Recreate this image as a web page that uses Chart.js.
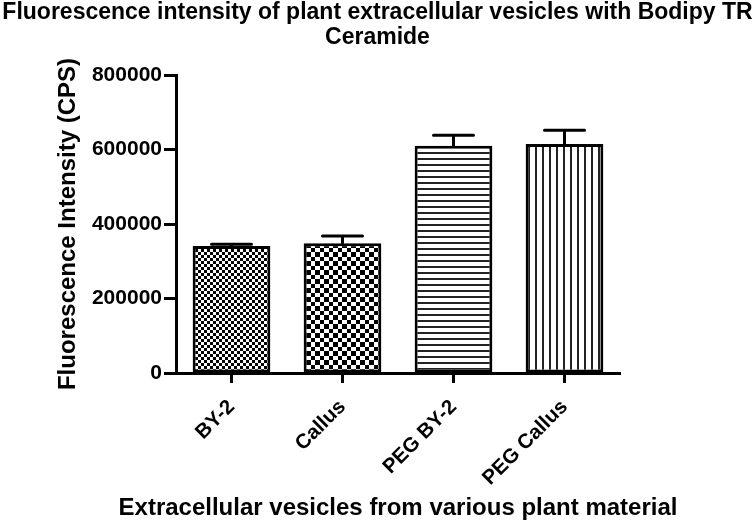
<!DOCTYPE html>
<html>
<head>
<meta charset="utf-8">
<script src="https://cdn.jsdelivr.net/npm/chart.js@4.4.1/dist/chart.umd.min.js"></script>
<style>
  body { margin: 0; background: #fff; overflow: hidden; }
</style>
</head>
<body>
<canvas id="chart" width="755" height="521"></canvas>
<script>
// data
var categories = ['BY-2', 'Callus', 'PEG BY-2', 'PEG Callus'];
var means = [341000, 348000, 610000, 615000];
var errors = [4500, 20000, 28000, 37000];
var yMin = 0;
var yMax = 800000;
var yStep = 200000;

var titleLines = ['Fluorescence intensity of plant extracellular vesicles with Bodipy TR', 'Ceramide'];
var xTitle = 'Extracellular vesicles from various plant material';
var yTitle = 'Fluorescence Intensity (CPS)';

var FONT = "'Liberation Sans', Arial, sans-serif";

// fill patterns
function makePattern(size, draw) {
    var c = document.createElement('canvas');
    c.width = size;
    c.height = size;
    var g = c.getContext('2d');
    g.fillStyle = '#fff';
    g.fillRect(0, 0, size, size);
    g.fillStyle = '#000';
    draw(g, size);
    return document.getElementById('chart').getContext('2d').createPattern(c, 'repeat');
}

var fineChecker = makePattern(6, function (g) {
    g.fillRect(0, 0, 3, 3);
    g.fillRect(3, 3, 3, 3);
});
var coarseChecker = makePattern(18, function (g) {
    var edges = [0, 5, 9, 14, 18];
    for (var i = 0; i < 4; i++) {
        for (var j = 0; j < 4; j++) {
            if ((i + j) % 2 === 0) {
                g.fillRect(edges[i], edges[j], edges[i + 1] - edges[i], edges[j + 1] - edges[j]);
            }
        }
    }
});
var hLines = makePattern(6, function (g) {
    g.fillStyle = '#222';
    g.fillRect(0, 2, 6, 2);
});
var vLines = makePattern(7, function (g) {
    g.fillStyle = '#222';
    g.fillRect(3, 0, 2, 7);
});

// error bars (upper only)
var errorBars = {
    id: 'errorBars',
    afterDatasetsDraw: function (chart) {
        var ctx = chart.ctx;
        var y = chart.scales.y;
        var meta = chart.getDatasetMeta(0);
        ctx.save();
        ctx.strokeStyle = '#000';
        ctx.lineWidth = 3;
        ctx.lineCap = 'round';
        meta.data.forEach(function (bar, i) {
            var top = y.getPixelForValue(means[i] + errors[i]);
            var base = y.getPixelForValue(means[i]);
            ctx.beginPath();
            ctx.moveTo(bar.x, base);
            ctx.lineTo(bar.x, top);
            ctx.moveTo(bar.x - 20, top);
            ctx.lineTo(bar.x + 20, top);
            ctx.stroke();
        });
        ctx.restore();
    }
};

// chart title and x axis title, drawn without the width squeeze Chart.js applies
var titles = {
    id: 'titles',
    afterDraw: function (chart) {
        var ctx = chart.ctx;
        var a = chart.chartArea;
        ctx.save();
        ctx.fillStyle = '#000';
        ctx.textAlign = 'center';
        ctx.textBaseline = 'middle';
        ctx.font = 'bold 23px ' + FONT;
        ctx.fillText(titleLines[0], chart.width / 2, 13);
        ctx.fillText(titleLines[1], chart.width / 2, 38);
        ctx.font = 'bold 24px ' + FONT;
        ctx.fillText(xTitle, (a.left + a.right) / 2, 508);
        ctx.restore();
    }
};

let chart = new Chart(document.getElementById('chart'), {
    type: 'bar',
    data: {
        labels: categories,
        datasets: [{
            data: means,
            backgroundColor: [fineChecker, coarseChecker, hLines, vLines],
            borderColor: '#000',
            borderWidth: 3,
            borderSkipped: false,
            barPercentage: 0.7,
            categoryPercentage: 1
        }]
    },
    options: {
        responsive: false,
        animation: false,
        layout: { padding: { left: 50, right: 135, top: 75, bottom: 0 } },
        plugins: {
            legend: { display: false },
            tooltip: { enabled: false },
            title: { display: false }
        },
        scales: {
            x: {
                offset: true,
                border: { display: true, color: '#000', width: 3 },
                grid: { display: true, offset: false, drawOnChartArea: false, drawTicks: true, tickLength: 10, tickWidth: 3, tickColor: '#000' },
                ticks: {
                    color: '#000',
                    font: { family: FONT, size: 20.5, weight: 'bold' },
                    minRotation: 45,
                    maxRotation: 45,
                    padding: 12
                },
                afterFit: function (s) { s.height = 521 - 373; }
            },
            y: {
                min: yMin,
                max: yMax,
                border: { display: true, color: '#000', width: 3 },
                grid: { display: true, drawOnChartArea: false, drawTicks: true, tickLength: 12, tickWidth: 3, tickColor: '#000' },
                ticks: {
                    stepSize: yStep,
                    color: '#000',
                    font: { family: FONT, size: 21, weight: 'bold' },
                    padding: 2,
                    callback: function (v) { return String(v); }
                },
                title: {
                    display: true,
                    text: yTitle,
                    color: '#000',
                    font: { family: FONT, size: 24, weight: 'bold' },
                    padding: { top: 4, bottom: 0 }
                },
                afterFit: function (s) { s.width = 176 - 50; }
            }
        }
    },
    plugins: [errorBars, titles]
});
</script>
</body>
</html>
